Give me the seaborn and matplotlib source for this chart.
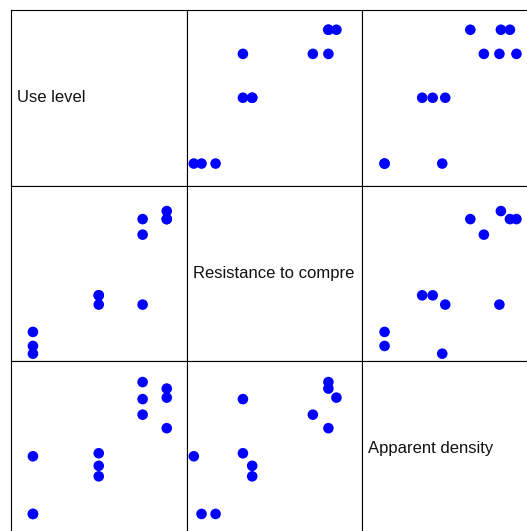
import matplotlib
matplotlib.use("Agg")
import matplotlib.pyplot as plt
import seaborn as sns
import pandas as pd

# Survey of 12 samples: use level, compressive resistance and apparent density
use_level = [1.0, 1.0, 1.0, 6.0, 4.0, 4.0, 4.0, 6.0, 6.0, 7.1, 7.1, 7.1]
resistance = [1.46, 3.0, 5.8, 11.25, 11.25, 13.1, 13.1, 25.2, 28.3, 28.3, 28.3, 29.9]
density = [0.460, 0.345, 0.345, 0.574, 0.466, 0.441, 0.420, 0.543, 0.608, 0.595, 0.516, 0.577]

names = ["Use level", "Resistance to compression", "Apparent density"]
limits = {names[0]: (0, 8), names[1]: (0, 35), names[2]: (0.3, 0.65)}

df = pd.DataFrame({names[0]: use_level, names[1]: resistance, names[2]: density})

sns.set_style("white")
plt.rcParams["font.family"] = ["Liberation Sans", "DejaVu Sans"]

g = sns.PairGrid(df, vars=names, height=1.75, aspect=1.0, despine=False)
g.map_offdiag(sns.scatterplot, color="#0000ff", s=58, linewidth=0, edgecolor="none")

fig = g.figure
fig.set_size_inches(5.27, 5.31)
W, H = 527.0, 531.0
cell = 175.5
x0, y0 = 11.0, 10.0

for i in range(3):
    for j in range(3):
        ax = g.axes[i, j]
        left = (x0 + j * cell) / W
        top = (y0 + i * cell) / H
        ax.set_position([left, 1 - top - cell / H, cell / W, cell / H])
        ax.set_xlim(*limits[names[j]])
        ax.set_ylim(*limits[names[i]])
        ax.set_xticks([])
        ax.set_yticks([])
        ax.set_xlabel("")
        ax.set_ylabel("")
        for sp in ax.spines.values():
            sp.set_visible(True)
            sp.set_color("black")
            sp.set_linewidth(0.8)
        if i == j:
            ax.text(0.035, 0.5, names[i][:20], transform=ax.transAxes,
                    ha="left", va="center", fontsize=12, color="#111111")

fig.savefig("out.png", dpi=100)
